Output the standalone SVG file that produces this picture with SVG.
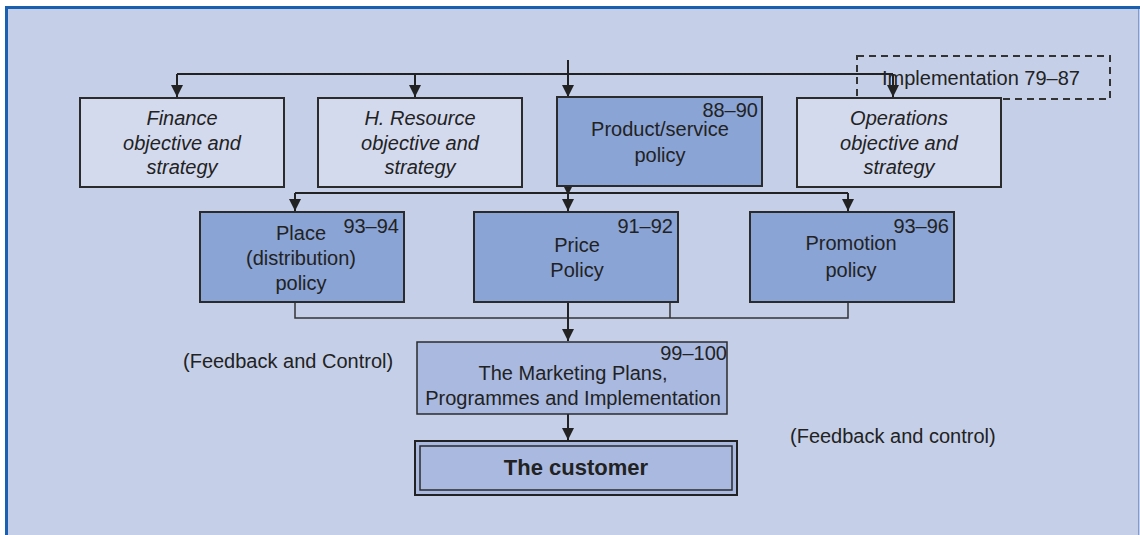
<svg xmlns="http://www.w3.org/2000/svg" width="1140" height="535" viewBox="0 0 1140 535">
<defs>
<style>
.bg{fill:#c5d0e8}
.light{fill:#d4daee;stroke:#2b2b2b;stroke-width:2}
.dark{fill:#8aa4d5;stroke:#2b2b2b;stroke-width:2}
.mid{fill:#a9b9e0;stroke:#2b2b2b;stroke-width:1.5}
.ln{fill:none;stroke:#222;stroke-width:2}
.thin{fill:none;stroke:#333;stroke-width:1.5}
text{font-family:"Liberation Sans",Arial,sans-serif;font-size:20px;fill:#222;text-anchor:middle}
.it{font-style:italic}
.num{text-anchor:end}
.lab{text-anchor:start}
</style>
<marker id="ah" viewBox="0 0 10 10" refX="10" refY="5" markerWidth="12" markerHeight="12" markerUnits="userSpaceOnUse" orient="auto">
<path d="M0,0 L10,5 L0,10 z" fill="#222"/>
</marker>
</defs>
<rect x="0" y="0" width="1140" height="535" fill="#ffffff"/>
<rect x="6" y="7" width="1134" height="528" class="bg"/>
<path d="M6.5,535 V7.5 H1140" fill="none" stroke="#1a5fb0" stroke-width="3"/>
<line x1="1138.5" y1="9" x2="1138.5" y2="535" stroke="#7f9bcf" stroke-width="1"/>

<g id="connectors">
<path class="ln" d="M177,74 H893"/>
<path class="ln" d="M568,60 V97" marker-end="url(#ah)"/>
<path class="ln" d="M177,74 V97" marker-end="url(#ah)"/>
<path class="ln" d="M415,74 V97" marker-end="url(#ah)"/>
<path class="ln" d="M893,74 V97" marker-end="url(#ah)"/>
<path class="ln" d="M568,186 V195" marker-end="url(#ah)"/>
<path class="ln" d="M295,193 H848"/>
<path class="ln" d="M295,193 V211" marker-end="url(#ah)"/>
<path class="ln" d="M568,193 V211" marker-end="url(#ah)"/>
<path class="ln" d="M848,193 V211" marker-end="url(#ah)"/>
<path class="thin" d="M295,302 V318 H848 V302"/>
<path class="thin" d="M670,302 V318"/>
<path class="ln" d="M568,302 V341" marker-end="url(#ah)"/>
<path class="ln" d="M568,414 V440" marker-end="url(#ah)"/>
</g>

<g id="implementation">
<rect x="857" y="56" width="253" height="43" fill="none" stroke="#333" stroke-width="2" stroke-dasharray="7,5"/>
<text x="981" y="85">Implementation 79–87</text>
</g>

<g id="finance">
<rect x="80" y="98" width="204" height="89" class="light"/>
<text class="it" x="182" y="125">Finance</text>
<text class="it" x="182" y="150">objective and</text>
<text class="it" x="182" y="174">strategy</text>
</g>

<g id="hr">
<rect x="318" y="98" width="204" height="89" class="light"/>
<text class="it" x="420" y="125">H. Resource</text>
<text class="it" x="420" y="150">objective and</text>
<text class="it" x="420" y="174">strategy</text>
</g>

<g id="product">
<rect x="557" y="97" width="205" height="89" class="dark"/>
<text class="num" x="758" y="117">88–90</text>
<text x="660" y="136">Product/service</text>
<text x="660" y="162">policy</text>
</g>

<g id="operations">
<rect x="797" y="98" width="204" height="89" class="light"/>
<text class="it" x="899" y="125">Operations</text>
<text class="it" x="899" y="150">objective and</text>
<text class="it" x="899" y="174">strategy</text>
</g>

<g id="place">
<rect x="200" y="212" width="204" height="90" class="dark"/>
<text class="num" x="399" y="233">93–94</text>
<text x="301" y="240">Place</text>
<text x="301" y="265">(distribution)</text>
<text x="301" y="290">policy</text>
</g>

<g id="price">
<rect x="474" y="212" width="204" height="90" class="dark"/>
<text class="num" x="673" y="233">91–92</text>
<text x="577" y="252">Price</text>
<text x="577" y="277">Policy</text>
</g>

<g id="promotion">
<rect x="750" y="212" width="204" height="90" class="dark"/>
<text class="num" x="949" y="233">93–96</text>
<text x="851" y="250">Promotion</text>
<text x="851" y="277">policy</text>
</g>

<g id="marketing">
<rect x="417" y="342" width="310" height="72" class="mid"/>
<text class="num" x="727" y="360">99–100</text>
<text x="573" y="380">The Marketing Plans,</text>
<text x="573" y="405">Programmes and Implementation</text>
</g>

<g id="customer">
<rect x="415" y="441" width="322" height="54" fill="#a9b9e0" stroke="#222" stroke-width="2"/>
<rect x="420" y="446" width="312" height="44" fill="none" stroke="#2b2b2b" stroke-width="1.5"/>
<text x="576" y="475" font-weight="bold" style="font-size:22px">The customer</text>
</g>

<g id="labels">
<text class="lab" x="183" y="368">(Feedback and Control)</text>
<text class="lab" x="790" y="443">(Feedback and control)</text>
</g>
</svg>
